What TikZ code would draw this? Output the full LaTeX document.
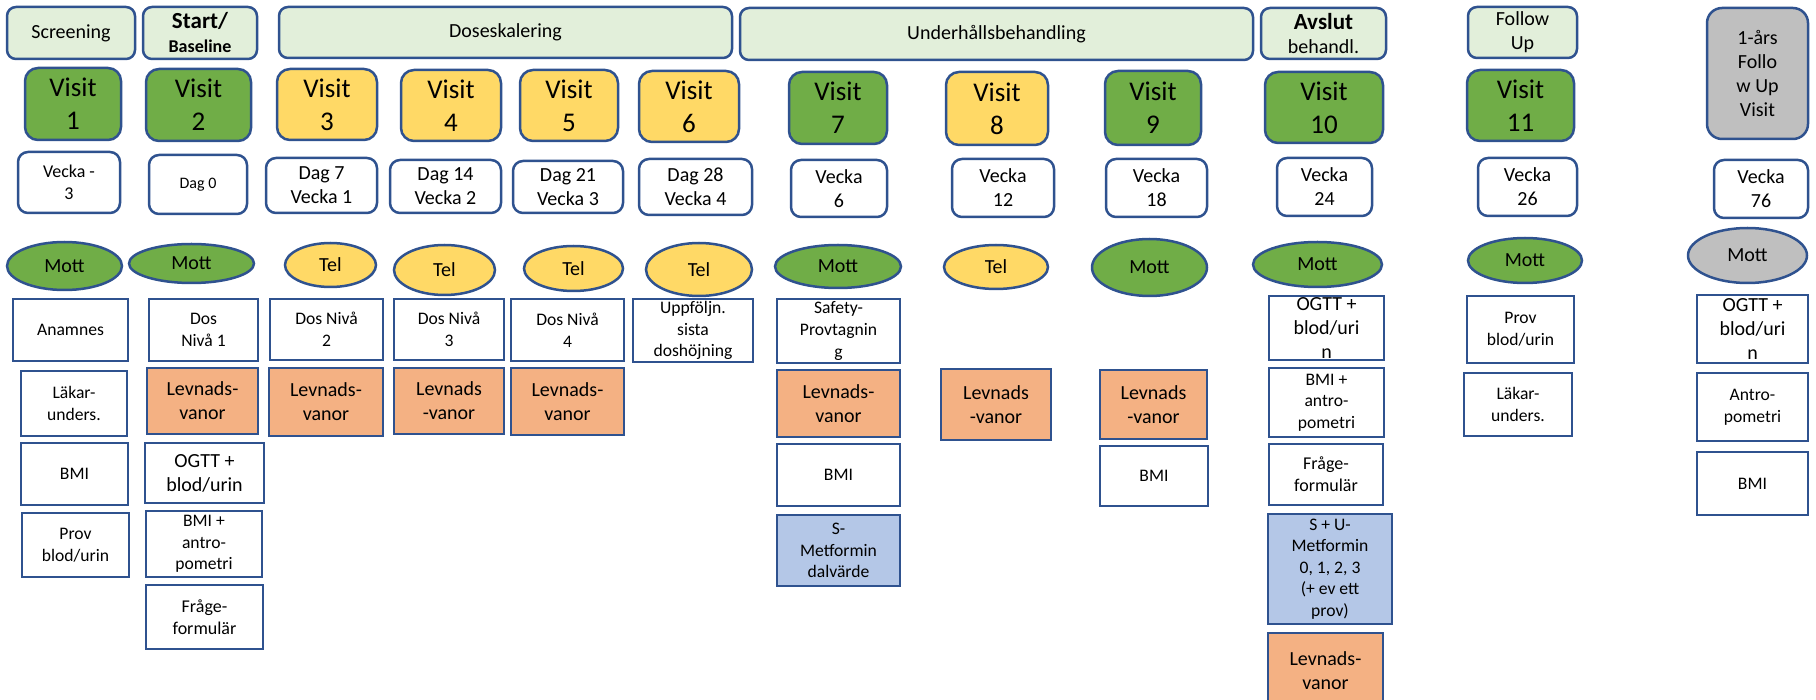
\documentclass[tikz,border=0pt]{standalone}
\usepackage{fontspec}
\setmainfont{Carlito}
\usetikzlibrary{shapes.geometric}

\definecolor{bord}{HTML}{2F528F}
\definecolor{hdrgreen}{HTML}{E2EFDA}
\definecolor{visgreen}{HTML}{70AD47}
\definecolor{visyellow}{HTML}{FFD966}
\definecolor{lvorange}{HTML}{F4B183}
\definecolor{metblue}{HTML}{B4C7E7}
\definecolor{fugray}{HTML}{BFBFBF}

\newcommand\ftwenty{\fontsize{20pt}{24pt}\selectfont}
\newcommand\fsmall{\fontsize{17.6pt}{21.6pt}\selectfont}
\newcommand\fdag{\fontsize{16pt}{20pt}\selectfont}
\newcommand\fvisit{\fontsize{27pt}{33pt}\selectfont}

\tikzset{
  wh/.style 2 args={minimum width=#1pt, minimum height=#2pt},
  base/.style={draw=bord, line width=2.5pt, inner sep=0pt, align=center, text=black},
  hdr/.style={base, fill=hdrgreen, rounded corners=9pt, font=\ftwenty},
  visit/.style={base, rounded corners=13pt, font=\fvisit},
  dagbox/.style={base, fill=white, rounded corners=10pt, font=\ftwenty},
  oval/.style={base, ellipse, font=\ftwenty},
  item/.style={base, fill=white, font=\fsmall},
  habit/.style={base, fill=lvorange, font=\ftwenty},
  metf/.style={base, fill=metblue, font=\fsmall},
}

\begin{document}
\begin{tikzpicture}[x=1pt, y=-1pt]
\useasboundingbox (0,0) rectangle (1816,700);

% phase headers
\node[hdr, wh={128}{52}] (hScr)  at (71,33)     {Screening};
\node[hdr, wh={114}{52}] (hBase) at (200,33)    {{\fontsize{23pt}{24pt}\selectfont\bfseries Start/}\\{\fontsize{18pt}{22pt}\selectfont\bfseries Baseline}};
\node[hdr, wh={453}{51}] (hDose) at (505.5,32.5) {Doseskalering};
\node[hdr, wh={513}{52}] (hUnd)  at (996.5,34)  {Underhållsbehandling};
\node[hdr, wh={125}{51}] (hEnd)  at (1323.5,33.5) {{\fontsize{23pt}{24pt}\selectfont\bfseries Avslut}\\behandl.};
\node[hdr, wh={109}{51}] (hFU)   at (1522.5,32.5) {Follow\\Up};
\node[hdr, fill=fugray, rounded corners=15pt, wh={101}{131}] (hYear) at (1757.5,73.5) {1-års\\Follo\\w Up\\Visit};

% visits
\node[visit, fill=visgreen,  wh={96}{72}]  (v1)  at (73,104)     {Visit\\1};
\node[visit, fill=visgreen,  wh={105}{72}] (v2)  at (198.5,105)  {Visit\\2};
\node[visit, fill=visyellow, wh={100}{71}] (v3)  at (327,104.5)  {Visit\\3};
\node[visit, fill=visyellow, wh={100}{71}] (v4)  at (451,105.5)  {Visit\\4};
\node[visit, fill=visyellow, wh={98}{71}]  (v5)  at (569,105.5)  {Visit\\5};
\node[visit, fill=visyellow, wh={100}{71}] (v6)  at (689,106.5)  {Visit\\6};
\node[visit, fill=visgreen,  wh={98}{72}]  (v7)  at (838,108)    {Visit\\7};
\node[visit, fill=visyellow, wh={102}{73}] (v8)  at (997,108.5)  {Visit\\8};
\node[visit, fill=visgreen,  wh={96}{74}]  (v9)  at (1153,108)   {Visit\\9};
\node[visit, fill=visgreen,  wh={118}{71}] (v10) at (1324,107.5) {Visit\\10};
\node[visit, fill=visgreen,  wh={107}{71}] (v11) at (1520.5,105.5) {Visit\\11};

% timing
\node[dagbox, font=\fontsize{18pt}{22pt}\selectfont, wh={102}{61}] (d1) at (69,182.5) {Vecka -\\3};
\node[dagbox, font=\fdag, wh={98}{59}]  (d2)  at (198,184.5)  {Dag 0};
\node[dagbox, wh={111}{55}] (d3)  at (321.5,185.5) {Dag 7\\Vecka 1};
\node[dagbox, wh={111}{53}] (d4)  at (445.5,186.5) {Dag 14\\Vecka 2};
\node[dagbox, wh={110}{52}] (d5)  at (568,187)     {Dag 21\\Vecka 3};
\node[dagbox, wh={113}{56}] (d6)  at (695.5,187)   {Dag 28\\Vecka 4};
\node[dagbox, wh={96}{57}]  (d7)  at (839,188.5)   {Vecka\\6};
\node[dagbox, wh={102}{58}] (d8)  at (1003,188)    {Vecka\\12};
\node[dagbox, wh={101}{58}] (d9)  at (1156.5,188)  {Vecka\\18};
\node[dagbox, wh={95}{58}]  (d10) at (1324.5,187)  {Vecka\\24};
\node[dagbox, wh={99}{58}]  (d11) at (1527.5,187)  {Vecka\\26};
\node[dagbox, wh={94}{58}]  (d12) at (1761,189)    {Vecka\\76};

% contact type
\node[oval, fill=visgreen,  wh={115}{48}] (c1)  at (64.5,266)   {Mott};
\node[oval, fill=visgreen,  wh={125}{39}] (c2)  at (191.5,263.5) {Mott};
\node[oval, fill=visyellow, wh={91}{44}]  (c3)  at (330.5,265)  {Tel};
\node[oval, fill=visyellow, wh={101}{50}] (c4)  at (444.5,270)  {Tel};
\node[oval, fill=visyellow, wh={99}{45}]  (c5)  at (573.5,268.5) {Tel};
\node[oval, fill=visyellow, wh={106}{53}] (c6)  at (699,269.5)  {Tel};
\node[oval, fill=visgreen,  wh={126}{43}] (c7)  at (838,266.5)  {Mott};
\node[oval, fill=visyellow, wh={104}{44}] (c8)  at (996,267)    {Tel};
\node[oval, fill=visgreen,  wh={115}{57}] (c9)  at (1149.5,267.5) {Mott};
\node[oval, fill=visgreen,  wh={129}{45}] (c10) at (1317.5,264.5) {Mott};
\node[oval, fill=visgreen,  wh={114}{45}] (c11) at (1525,260.5) {Mott};
\node[oval, fill=fugray,    wh={119}{55}] (c12) at (1747.5,255.5) {Mott};

% visit 1
\node[item, wh={115}{62}] (a1) at (70.5,330)  {Anamnes};
\node[item, wh={106}{65}] (a2) at (74,403.5)  {Läkar-\\unders.};
\node[item, wh={107}{62}] (a3) at (74.5,474)  {BMI};
\node[item, wh={107}{64}] (a4) at (75.5,545)  {Prov\\blod/urin};

% visit 2
\node[item, wh={109}{62}]  (b1) at (203.5,330) {Dos\\Nivå 1};
\node[habit, wh={111}{66}] (b2) at (202.5,401) {Levnads-\\vanor};
\node[item, font=\ftwenty, wh={119}{60}] (b3) at (204.5,473) {OGTT +\\blod/urin};
\node[item, wh={116}{66}]  (b4) at (204,544)   {BMI +\\antro-\\pometri};
\node[item, font=\fontsize{18pt}{22pt}\selectfont, wh={117}{64}] (b5) at (204.5,617) {Fråge-\\formulär};

% visits 3-6
\node[item, wh={113}{61}]  (e1) at (326.5,329.5) {Dos Nivå\\2};
\node[habit, wh={114}{68}] (e2) at (326,402)     {Levnads-\\vanor};
\node[item, wh={110}{61}]  (f1) at (449,329.5)   {Dos Nivå\\3};
\node[habit, wh={110}{66}] (f2) at (449,401)     {Levnads\\-vanor};
\node[item, wh={113}{62}]  (g1) at (567.5,330)   {Dos Nivå\\4};
\node[habit, wh={113}{67}] (g2) at (567.5,401.5) {Levnads-\\vanor};
\node[item, wh={120}{63}]  (h1) at (693,330.5)   {Uppföljn.\\sista\\doshöjning};

% visit 7
\node[item, wh={123}{64}]  (i1) at (838.5,331)   {Safety-\\Provtagnin\\g};
\node[habit, wh={123}{67}] (i2) at (838.5,403.5) {Levnads-\\vanor};
\node[item, wh={123}{62}]  (i3) at (838.5,475)   {BMI};
\node[metf, wh={123}{71}]  (i4) at (838.5,550.5) {S-\\Metformin\\dalvärde};

% visits 8-9
\node[habit, wh={110}{71}] (j1) at (996,404.5)    {Levnads\\-vanor};
\node[habit, wh={107}{69}] (k1) at (1153.5,404.5) {Levnads\\-vanor};
\node[item, wh={108}{60}]  (k2) at (1154,476)     {BMI};

% visit 10
\node[item, font=\ftwenty, wh={115}{64}] (l1) at (1326.5,328) {OGTT +\\blod/uri\\n};
\node[item, wh={115}{69}]  (l2) at (1326.5,402.5) {BMI +\\antro-\\pometri};
\node[item, font=\fontsize{18pt}{22pt}\selectfont, wh={114}{61}] (l3) at (1326,474.5) {Fråge-\\formulär};
\node[metf, wh={124}{110}] (l4) at (1330,569)     {S + U-\\Metformin\\0, 1, 2, 3\\(+ ev ett\\prov)};
\node[habit, wh={115}{75}] (l5) at (1325.5,670.5) {Levnads-\\vanor};

% visit 11
\node[item, wh={107}{67}] (m1) at (1520.5,329.5) {Prov\\blod/urin};
\node[item, wh={108}{63}] (m2) at (1518,404.5)   {Läkar-\\unders.};

% one-year follow-up
\node[item, font=\ftwenty, wh={111}{68}] (n1) at (1752.5,329) {OGTT +\\blod/uri\\n};
\node[item, wh={111}{68}] (n2) at (1752.5,407)   {Antro-\\pometri};
\node[item, wh={111}{63}] (n3) at (1752.5,483.5) {BMI};

\end{tikzpicture}
\end{document}
